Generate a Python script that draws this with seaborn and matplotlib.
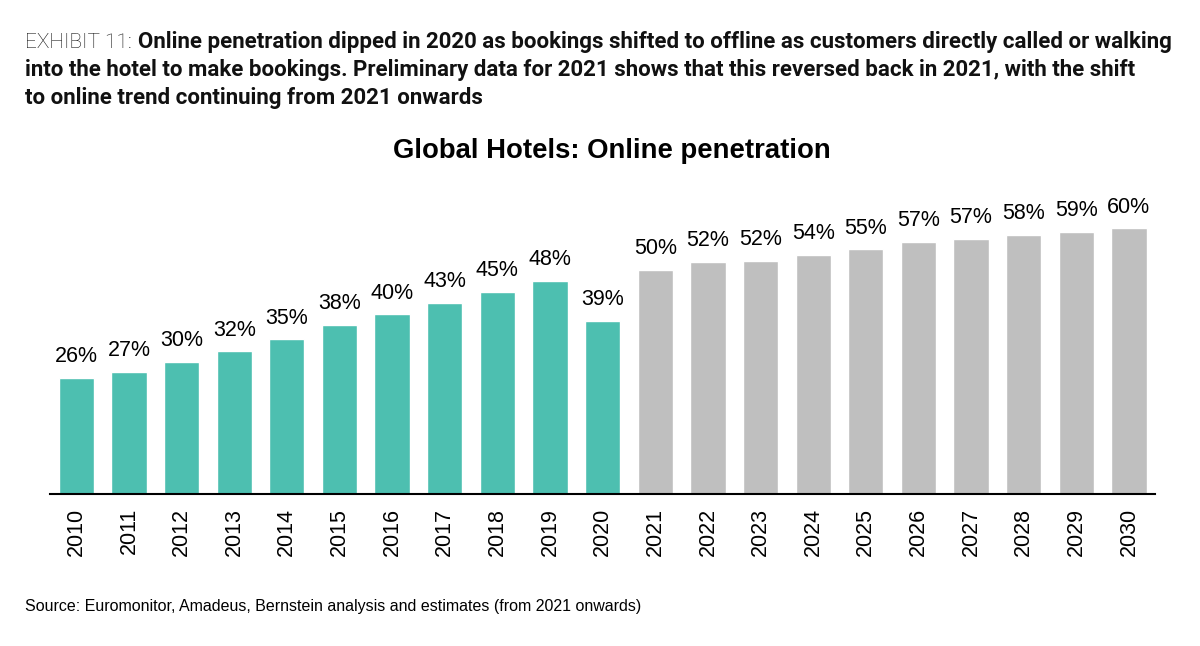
import numpy as np
import pandas as pd
import matplotlib
matplotlib.use("Agg")
import matplotlib.pyplot as plt
import seaborn as sns

# datos
anios = [str(a) for a in range(2010, 2031)]
penetracion = [26.1, 27.4, 29.7, 32.1, 34.8, 38.0, 40.4, 42.9, 45.4, 47.9, 38.9,
               50.4, 52.2, 52.4, 53.7, 55.0, 56.6, 57.4, 58.2, 58.9, 59.7]
tipo = ["real"] * 11 + ["estimado"] * 10

colores = {"real": "#4DBFB0", "estimado": "#BFBFBF"}

titulo = "Global Hotels: Online penetration"
encabezado_light = "EXHIBIT 11:"
encabezado = [
    "Online penetration dipped in 2020 as bookings shifted to offline as customers directly called or walking",
    "into the hotel to make bookings. Preliminary data for 2021 shows that this reversed back in 2021, with the shift",
    "to online trend continuing from 2021 onwards",
]
fuente = "Source: Euromonitor, Amadeus, Bernstein analysis and estimates (from 2021 onwards)"

df = pd.DataFrame({"anio": anios, "valor": penetracion, "tipo": tipo})

sns.set_style("white")
plt.rcParams["font.family"] = ["Liberation Sans", "DejaVu Sans"]
plt.rcParams["text.color"] = "black"
plt.rcParams["xtick.color"] = "black"

fig = plt.figure(figsize=(12, 6.46), dpi=100)
ax = fig.add_axes([0.0417, 0.235, 0.921, 0.455])

sns.barplot(data=df, x="anio", y="valor", hue="tipo", palette=colores,
            dodge=False, width=0.67, legend=False, ax=ax, saturation=1)

for i, v in enumerate(penetracion):
    ax.text(i, v + 2.4, f"{v:.0f}%", ha="center", va="bottom", fontsize=15.5)

ax.set_ylim(0, 66)
ax.set_xlim(-0.5, len(anios) - 0.5)
ax.set_yticks([])
ax.set_xlabel("")
ax.set_ylabel("")
for lado in ["left", "right", "top"]:
    ax.spines[lado].set_visible(False)
ax.spines["bottom"].set_color("black")
ax.spines["bottom"].set_linewidth(1.5)

ax.set_xticks(range(len(anios)))
ax.set_xticklabels(anios, rotation=90, fontsize=15.5)
ax.tick_params(axis="x", which="major", length=0, pad=10)
ax.set_xticks(np.arange(-0.5, len(anios)), minor=True)
ax.tick_params(axis="x", which="minor", length=8, width=1.5, color="black", direction="out")

fig.text(0.51, 0.767, titulo, ha="center", va="center", fontsize=19.8, fontweight="bold")

# encabezado
fam_enc = ["Liberation Sans Narrow", "Roboto", "DejaVu Sans"]
t1 = fig.text(25 / 1200, 1 - 42 / 646, encabezado_light, fontsize=15,
              family=fam_enc, fontweight="light", va="center", color="#111111")
fig.canvas.draw()
r = fig.canvas.get_renderer()
bb = t1.get_window_extent(renderer=r)
fig.text((bb.x1 + 6) / 1200, 1 - 42 / 646, encabezado[0], fontsize=16, family=fam_enc,
         fontweight="bold", va="center", color="#111111")
fig.text(25 / 1200, 1 - 70 / 646, encabezado[1], fontsize=16, family=fam_enc,
         fontweight="bold", va="center", color="#111111")
fig.text(25 / 1200, 1 - 98 / 646, encabezado[2], fontsize=16, family=fam_enc,
         fontweight="bold", va="center", color="#111111")

fig.text(25 / 1200, 1 - 607 / 646, fuente, fontsize=11.5, va="center")

fig.savefig("out.png", dpi=100)
